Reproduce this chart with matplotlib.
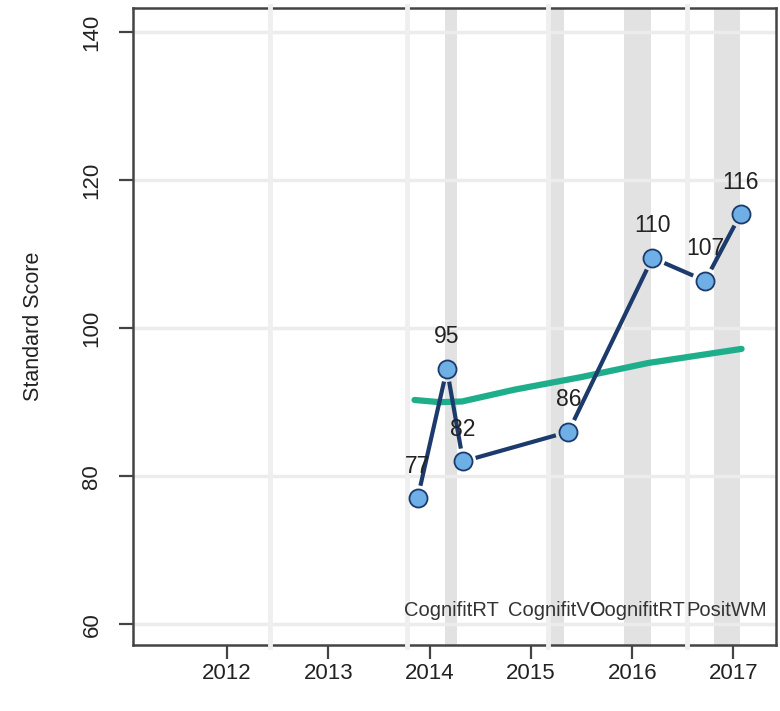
import numpy as np
import matplotlib.pyplot as plt

plt.rcParams['font.family'] = ['Liberation Sans', 'DejaVu Sans']

# test scores (decimal year, standard score)
dates = [2013.88, 2014.17, 2014.33, 2015.37, 2016.20, 2016.72, 2017.07]
scores = [77.0, 94.5, 82.0, 86.0, 109.5, 106.4, 115.4]
score_labels = ['77', '95', '82', '86', '110', '107', '116']

# smoothed trend
trend_dates = [2013.85, 2014.10, 2014.32, 2014.84, 2015.50, 2016.16, 2017.08]
trend_scores = [90.3, 90.0, 90.1, 91.7, 93.4, 95.3, 97.2]

# training periods
band_start = [2014.15, 2015.18, 2015.92, 2016.81]
band_end = [2014.27, 2015.33, 2016.19, 2017.06]
band_names = ['CognifitRT', 'CognifitVO', 'CognifitRT', 'PositWM']

# separators
sep_dates = [2012.42, 2013.78, 2015.17, 2016.54]

year_ticks = [2012, 2013, 2014, 2015, 2016, 2017]
score_ticks = [60, 80, 100, 120, 140]

fig = plt.figure(figsize=(7.8, 7.11), dpi=100)
ax = fig.add_axes([133/780, 1-645/711, (776-133)/780, (645-8)/711])
ax.set_xlim(2011.07, 2017.42)
ax.set_ylim(57.2, 143.25)

for s, e in zip(band_start, band_end):
    ax.axvspan(s, e, color='#e2e2e2', lw=0, zorder=0)
for t in score_ticks:
    ax.axhline(t, color='#ececec', lw=2.5, zorder=0.5)
for d in sep_dates:
    ax.axvline(d, ymin=-0.003, ymax=1.003, color='#efefef', lw=3.5,
               zorder=3, clip_on=False)

ax.plot(trend_dates, trend_scores, color='#1fae8c', lw=4.5,
        solid_capstyle='round', zorder=3.5)

# connecting line with gaps round the points (type="b")
pix = ax.transData.transform(np.column_stack([dates, scores]))
gap = 13
inv = ax.transData.inverted()
for p0, p1 in zip(pix[:-1], pix[1:]):
    v = p1 - p0
    n = np.hypot(*v)
    if n <= 2 * gap:
        continue
    u = v / n
    seg = inv.transform(np.array([p0 + u * gap, p1 - u * gap]))
    ax.plot(seg[:, 0], seg[:, 1], color='#1c3a6c', lw=3,
            solid_capstyle='butt', zorder=4)
ax.plot(dates, scores, ls='none', marker='o', ms=13,
        mfc='#6eafe6', mec='#1c3a6c', mew=1.3, zorder=5)

for d, s, lab in zip(dates, scores, score_labels):
    ax.annotate(lab, (d, s), xytext=(0, 23), textcoords='offset points',
                ha='center', va='center', fontsize=16.5, color='#222222',
                zorder=6)

for s, e, name in zip(band_start, band_end, band_names):
    ax.text((s + e) / 2, 61.9, name, ha='center', va='center',
            fontsize=14.5, color='#333333', zorder=6)

for sp in ax.spines.values():
    sp.set_color('#444444')
    sp.set_linewidth(1.8)

ax.set_xticks(year_ticks)
ax.set_yticks(score_ticks)
ax.set_yticklabels([str(t) for t in score_ticks], rotation=90, va='center')
ax.tick_params(axis='both', direction='out', length=10, width=1.6,
               color='#444444', labelsize=16, labelcolor='#222222')
ax.tick_params(axis='x', pad=3)
ax.tick_params(axis='y', pad=12)
ax.set_ylabel('Standard Score', fontsize=15.5, color='#222222', labelpad=27)

fig.savefig('out.png', dpi=100)
